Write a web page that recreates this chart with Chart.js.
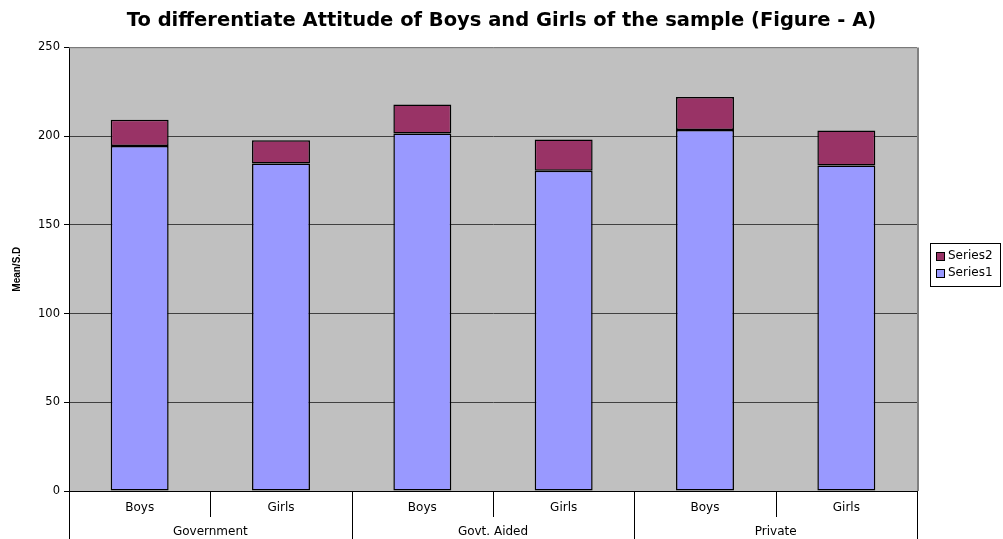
<!DOCTYPE html>
<html>
<head>
<meta charset="utf-8">
<script src="https://cdn.jsdelivr.net/npm/chart.js@4/dist/chart.umd.min.js"></script>
<style>
  html, body { margin: 0; padding: 0; background: #fff; }
  #wrap { width: 1003px; height: 539px; }
</style>
</head>
<body>
<div id="wrap"><canvas id="attitudeChart"></canvas></div>
<script>
const subCategories = ['Boys', 'Girls', 'Boys', 'Girls', 'Boys', 'Girls'];
const groups = ['Government', 'Govt. Aided', 'Private'];
const series1 = [194.5, 184.5, 201.5, 180.5, 203.5, 183.5];
const series2 = [14.7, 13.2, 16.3, 17.6, 18.6, 19.7];
const yTicks = [0, 50, 100, 150, 200, 250];

const labelFont = '"DejaVu Sans", Arial, sans-serif';

// grey plot background + border
const plotArea = {
    id: 'plotArea',
    beforeDraw(chart) {
        const a = chart.chartArea, ctx = chart.ctx;
        ctx.save();
        ctx.fillStyle = '#c0c0c0';
        ctx.fillRect(a.left, a.top, a.right - a.left, a.bottom - a.top);
        ctx.restore();
    },
    afterDraw(chart) {
        const a = chart.chartArea, ctx = chart.ctx;
        ctx.save();
        ctx.strokeStyle = '#a0a0a0';
        ctx.lineWidth = 1;
        ctx.beginPath();
        ctx.moveTo(a.left, a.top + 0.5);
        ctx.lineTo(a.right, a.top + 0.5);
        ctx.stroke();
        ctx.strokeStyle = '#808080';
        ctx.lineWidth = 2;
        ctx.beginPath();
        ctx.moveTo(a.right + 1, a.top);
        ctx.lineTo(a.right + 1, a.bottom);
        ctx.stroke();
        ctx.restore();
    }
};

// two-row category axis (Boys/Girls over the school type)
const groupAxis = {
    id: 'groupAxis',
    afterDraw(chart) {
        const x = chart.scales.x, a = chart.chartArea, ctx = chart.ctx;
        const n = subCategories.length;
        const step = (x.right - x.left) / n;
        const bottom = chart.height;
        ctx.save();
        ctx.strokeStyle = '#000';
        ctx.lineWidth = 1;
        ctx.beginPath();
        for (let i = 0; i <= n; i++) {
            const px = Math.round(x.left + step * i) + 0.5;
            ctx.moveTo(px, a.bottom);
            ctx.lineTo(px, i % 2 === 0 ? bottom : a.bottom + 26);
        }
        ctx.stroke();
        ctx.fillStyle = '#000';
        ctx.font = '12px ' + labelFont;
        ctx.textAlign = 'center';
        ctx.textBaseline = 'middle';
        subCategories.forEach((lab, i) => {
            ctx.fillText(lab, x.getPixelForValue(i), a.bottom + 17);
        });
        groups.forEach((g, j) => {
            const cx = (x.getPixelForValue(j * 2) + x.getPixelForValue(j * 2 + 1)) / 2;
            ctx.fillText(g, cx, a.bottom + 41);
        });
        ctx.restore();
    }
};

// framed legend at the right, Series2 listed first
const sideLegend = {
    id: 'sideLegend',
    afterDraw(chart) {
        const a = chart.chartArea, ctx = chart.ctx;
        const items = chart.data.datasets.slice().reverse();
        const left = a.right + 13, width = 70, rowH = 17;
        const height = items.length * rowH + 9;
        const top = Math.round((a.top + a.bottom) / 2 - 4.5 - height / 2);
        ctx.save();
        ctx.strokeStyle = '#000';
        ctx.lineWidth = 1;
        ctx.strokeRect(left + 0.5, top + 0.5, width, height);
        ctx.font = '12px ' + labelFont;
        ctx.textBaseline = 'middle';
        ctx.textAlign = 'left';
        items.forEach((ds, i) => {
            const cy = top + 13 + i * rowH;
            ctx.fillStyle = ds.backgroundColor;
            ctx.fillRect(left + 6, cy - 4, 8, 8);
            ctx.strokeRect(left + 6.5, cy - 3.5, 8, 8);
            ctx.fillStyle = '#000';
            ctx.fillText(ds.label, left + 18, cy);
        });
        ctx.restore();
    }
};

new Chart(document.getElementById('attitudeChart'), {
    type: 'bar',
    data: {
        labels: subCategories,
        datasets: [
            { label: 'Series1', data: series1, backgroundColor: '#9999ff', borderColor: '#000', borderWidth: 1.5, borderSkipped: false },
            { label: 'Series2', data: series2, backgroundColor: '#993366', borderColor: '#000', borderWidth: 1.5, borderSkipped: false }
        ]
    },
    options: {
        responsive: true,
        maintainAspectRatio: false,
        animation: false,
        devicePixelRatio: 1,
        layout: { padding: 0 },
        datasets: { bar: { categoryPercentage: 1, barPercentage: 0.41 } },
        plugins: {
            title: {
                display: true,
                text: 'To differentiate Attitude of Boys and Girls of the sample (Figure - A)',
                color: '#000',
                fullSize: true,
                font: { family: '"DejaVu Sans", Arial, sans-serif', size: 19.5, weight: 'bold' },
                padding: { top: 9, bottom: 15 }
            },
            legend: { display: false },
            tooltip: { enabled: false }
        },
        scales: {
            x: {
                stacked: true,
                ticks: { display: false },
                grid: { display: false },
                border: { display: true, color: '#000' },
                afterFit(scale) { scale.height = 48; }
            },
            y: {
                stacked: true,
                min: 0,
                max: 250,
                afterBuildTicks(scale) { scale.ticks = yTicks.map(v => ({ value: v })); },
                ticks: {
                    color: '#000',
                    padding: 4,
                    font: { family: labelFont, size: 11.5 }
                },
                grid: { color: '#404040', tickColor: '#000', tickLength: 5 },
                border: { display: true, color: '#000' },
                title: {
                    display: true,
                    text: 'Mean/S.D',
                    color: '#000',
                    font: { family: 'Arial, "Liberation Sans", sans-serif', size: 10, weight: 'bold' },
                    padding: { top: 11, bottom: 8 }
                },
                afterFit(scale) { scale.width = 69; }
            },
            // empty right-hand strip that leaves room for the legend
            legendSpace: {
                type: 'linear',
                position: 'right',
                ticks: { display: false },
                grid: { display: false, drawOnChartArea: false },
                border: { display: false },
                afterFit(scale) { scale.width = 86; }
            }
        }
    },
    plugins: [plotArea, groupAxis, sideLegend]
});
</script>
</body>
</html>
